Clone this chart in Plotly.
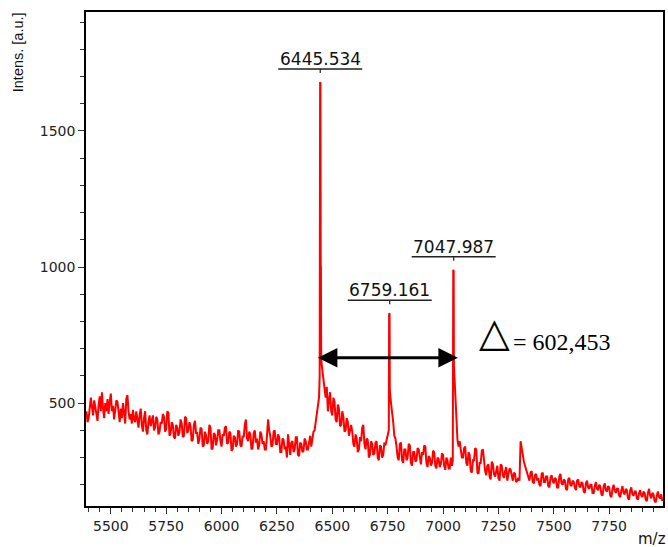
import plotly.graph_objects as go

# ---- data ----
mz_start = 5390
mz_step = 5
base_intens = [
    470, 430, 445, 500, 520, 485, 455, 510, 480, 470, 435, 495, 525, 470, 540, 480, 445, 500, 470, 515,  # 5390
    460, 505, 535, 470, 490, 440, 470, 510, 505, 455, 430, 480, 445, 500, 470, 425, 515, 530, 470, 440,  # 5490
    460, 425, 475, 440, 430, 470, 440, 410, 455, 480, 420, 395, 445, 470, 400, 385, 430, 455, 415, 440,  # 5590
    455, 400, 410, 450, 440, 385, 395, 430, 425, 460, 450, 395, 405, 470, 465, 380, 390, 430, 420, 375,  # 5690
    370, 420, 410, 380, 395, 440, 425, 375, 380, 450, 445, 390, 400, 430, 415, 360, 365, 420, 435, 390,  # 5790
    390, 350, 370, 410, 405, 340, 345, 395, 380, 350, 360, 420, 410, 330, 335, 390, 385, 345, 365, 400,  # 5890
    400, 360, 340, 385, 380, 410, 415, 350, 355, 395, 390, 325, 330, 380, 375, 340, 350, 400, 395, 345,  # 5990
    340, 380, 375, 420, 440, 370, 360, 395, 385, 330, 335, 390, 400, 355, 370, 330, 345, 395, 385, 350,  # 6090
    360, 330, 330, 380, 440, 400, 380, 340, 345, 395, 400, 350, 350, 385, 375, 320, 320, 370, 365, 330,  # 6190
    340, 300, 385, 350, 310, 355, 360, 320, 330, 375, 375, 310, 305, 355, 350, 320, 325, 370, 360, 330,  # 6290
    330, 355, 380, 340, 370, 395, 400, 430, 470, 480, 520, 1680, 660, 620, 580, 540, 520, 560, 470, 510,  # 6390
    540, 470, 455, 520, 505, 440, 430, 495, 480, 415, 420, 470, 450, 395, 400, 445, 430, 380, 395, 420,  # 6490
    395, 350, 340, 385, 370, 320, 330, 375, 360, 410, 420, 350, 330, 370, 365, 300, 310, 360, 350, 310,  # 6590
    315, 355, 360, 300, 290, 345, 340, 300, 310, 355, 345, 365, 380, 400, 545, 500, 470, 430, 380, 370,  # 6690
    340, 300, 290, 350, 355, 290, 280, 330, 330, 290, 300, 350, 345, 280, 270, 320, 320, 285, 290, 335,  # 6790
    330, 290, 275, 320, 310, 345, 340, 280, 265, 305, 300, 270, 280, 325, 320, 270, 260, 300, 295, 265,  # 6890
    275, 315, 310, 270, 255, 300, 290, 260, 260, 300, 270, 640, 620, 500, 420, 365, 340, 360, 330, 300,  # 6990
    300, 335, 340, 280, 270, 320, 310, 250, 245, 290, 290, 335, 330, 245, 240, 280, 280, 325, 330, 270,  # 7090
    250, 235, 270, 275, 230, 220, 285, 275, 240, 230, 260, 270, 225, 215, 275, 270, 235, 225, 250, 265,  # 7190
    215, 240, 260, 255, 230, 215, 245, 240, 210, 215, 225, 215, 360, 330, 300, 285, 270, 255, 250, 235,  # 7290
    215, 245, 250, 210, 205, 235, 240, 215, 225, 200, 195, 240, 245, 210, 210, 230, 230, 195, 190, 225,  # 7390
    235, 215, 205, 225, 220, 190, 190, 230, 240, 205, 200, 220, 215, 185, 180, 220, 225, 200, 195, 215,  # 7490
    210, 190, 180, 215, 220, 195, 190, 210, 205, 175, 170, 205, 215, 190, 185, 200, 200, 170, 170, 195,  # 7590
    210, 185, 180, 200, 195, 165, 160, 195, 205, 180, 175, 195, 190, 160, 155, 185, 200, 180, 170, 185,  # 7690
    185, 160, 155, 180, 195, 170, 165, 185, 180, 150, 145, 180, 190, 165, 160, 175, 175, 150, 145, 170,  # 7790
    180, 160, 155, 175, 170, 145, 140, 170, 185, 160, 150, 170, 165, 140, 135, 160, 175, 155, 150, 165,  # 7890
    140,                                                                                                  # 7990
]

# narrow peak points (m/z, intensity)
peak_pts_mz = [6443, 6444, 6446.5, 6447.5, 6448.5, 6449.5,
               6756.5, 6758.5, 6759.5,
               7044, 7046, 7048, 7049]
peak_pts_int = [600, 1680, 1675, 1010, 1000, 720,
                830, 828, 560,
                290, 990, 985, 640]

# labelled peaks
label_mz = [6445.534, 6759.161, 7047.987]
label_top = [1680, 830, 990]
label_text = ["6445.534", "6759.161", "7047.987"]

# double arrow between first and third peak
arrow_mz = [6428, 7067]
arrow_level = 667
delta_text = "= 602,453"

x_range = [5388, 7993]
y_range = [122, 1937]

# ---- build trace ----
pts = [(mz_start + i * mz_step, v) for i, v in enumerate(base_intens)]
pts += list(zip(peak_pts_mz, peak_pts_int))
pts.sort(key=lambda p: p[0])
xs = [p[0] for p in pts]
ys = [p[1] for p in pts]

fig = go.Figure()
fig.add_trace(go.Scatter(x=xs, y=ys, mode="lines",
                         line=dict(color="#ff0000", width=2),
                         hoverinfo="skip", showlegend=False))

tick_font = dict(family="DejaVu Sans", size=14, color="#222222")
fig.update_layout(
    width=668, height=547,
    margin=dict(l=86, r=3, t=12, b=41),
    plot_bgcolor="white", paper_bgcolor="white",
    showlegend=False,
    xaxis=dict(range=x_range, showgrid=False, zeroline=False,
               showline=True, linecolor="black", linewidth=1.5, mirror=True,
               ticks="outside", ticklen=6, tickwidth=1.2, tickcolor="#333",
               tick0=5500, dtick=250, tickfont=tick_font,
               minor=dict(dtick=50, tick0=5500, ticks="outside", ticklen=4,
                          tickwidth=1, tickcolor="#333", showgrid=False)),
    yaxis=dict(range=y_range, showgrid=False, zeroline=False,
               showline=True, linecolor="black", linewidth=1.5, mirror=True,
               ticks="outside", ticklen=6, tickwidth=1.2, tickcolor="#333",
               tick0=0, dtick=500, tickfont=tick_font,
               minor=dict(dtick=100, tick0=0, ticks="outside", ticklen=4,
                          tickwidth=1, tickcolor="#333", showgrid=False)),
)

shapes = []
annots = []
for mz, top, txt in zip(label_mz, label_top, label_text):
    shapes.append(dict(type="line", xref="x", yref="y",
                       xsizemode="pixel", xanchor=mz, x0=-42, x1=42,
                       ysizemode="pixel", yanchor=top, y0=13, y1=13,
                       line=dict(color="#222", width=1.5)))
    shapes.append(dict(type="line", xref="x", yref="y",
                       xsizemode="pixel", xanchor=mz, x0=0, x1=0,
                       ysizemode="pixel", yanchor=top, y0=13, y1=9,
                       line=dict(color="#222", width=1.2)))
    annots.append(dict(x=mz, y=top, xref="x", yref="y", text=txt,
                       showarrow=False, yshift=23,
                       xanchor="center", yanchor="middle",
                       font=dict(family="DejaVu Sans", size=17, color="#111")))

# double-headed arrow
annots.append(dict(x=arrow_mz[1], y=arrow_level, ax=arrow_mz[0], ay=arrow_level,
                   xref="x", yref="y", axref="x", ayref="y", text="",
                   showarrow=True, arrowside="end+start", arrowhead=2,
                   arrowsize=1.3, arrowwidth=3, arrowcolor="black"))

def px_x(p):
    return (p - 86) / 579

def px_y(p):
    return (506 - p) / 494

# delta text
annots.append(dict(x=px_x(513), y=px_y(332), xref="paper", yref="paper",
                   text="△", showarrow=False, xanchor="right", yanchor="middle",
                   font=dict(family="DejaVu Sans", size=40, color="black")))
annots.append(dict(x=px_x(512), y=px_y(342), xref="paper", yref="paper",
                   text=delta_text, showarrow=False, xanchor="left", yanchor="middle",
                   font=dict(family="Liberation Serif", size=24, color="black")))

# axis titles
annots.append(dict(x=px_x(18), y=px_y(52), xref="paper", yref="paper",
                   text="Intens. [a.u.]", showarrow=False, textangle=-90,
                   xanchor="center", yanchor="middle",
                   font=dict(family="Liberation Sans", size=14.5, color="#111")))
annots.append(dict(x=px_x(654), y=px_y(539), xref="paper", yref="paper",
                   text="m/z", showarrow=False, xanchor="center", yanchor="middle",
                   font=dict(family="DejaVu Sans", size=15, color="#111")))

fig.update_layout(shapes=shapes, annotations=annots)
fig.write_html("out.html", config={"displayModeBar": False},
               post_script="document.body.style.margin='0px';")
